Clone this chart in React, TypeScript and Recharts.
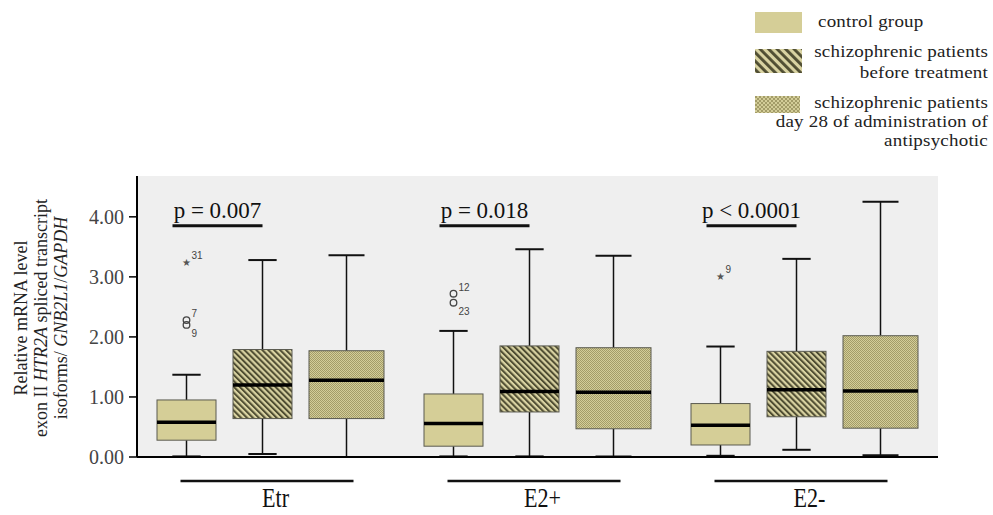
import React from "react";
import { ComposedChart, Bar, XAxis, YAxis, CartesianGrid } from "recharts";

// ─── Data ─────────────────────────────────────────────────────────────────────

const CATEGORIES = ["Etr", "E2+", "E2-"];
const P_VALUES = ["p = 0.007", "p = 0.018", "p < 0.0001"];
const Y_TICKS = [0, 1, 2, 3, 4];

// box stats per category: [min, q1, median, q3, max]
const CONTROL = [
  [0.01, 0.28, 0.58, 0.95, 1.37],
  [0.01, 0.18, 0.56, 1.05, 2.1],
  [0.02, 0.2, 0.53, 0.89, 1.84],
];
const BEFORE = [
  [0.05, 0.64, 1.2, 1.79, 3.28],
  [0.01, 0.75, 1.09, 1.85, 3.46],
  [0.12, 0.67, 1.12, 1.76, 3.3],
];
const DAY28 = [
  [0.0, 0.64, 1.28, 1.77, 3.36],
  [0.01, 0.47, 1.08, 1.82, 3.35],
  [0.03, 0.48, 1.1, 2.02, 4.25],
];

// SPSS outliers (circle) and extremes (star), with case numbers
type Outlier = { value: number; id: string; extreme?: boolean };
const CONTROL_OUTLIERS: Outlier[][] = [
  [{ value: 3.24, id: "31", extreme: true }, { value: 2.28, id: "7" }, { value: 2.2, id: "9" }],
  [{ value: 2.72, id: "12" }, { value: 2.57, id: "23" }],
  [{ value: 3.02, id: "9", extreme: true }],
];

// ─── Style ────────────────────────────────────────────────────────────────────

const SERIF = "'Liberation Serif', 'Times New Roman', serif";
const KHAKI = "#d5ce97";
const KHAKI_LIGHT = "#d9d3a2";
const OLIVE_DARK = "#4f4d32";
const CHECK_DARK = "#a39c68";
const PLOT_BG = "#efefef";

const rows = CATEGORIES.map((name, i) => ({
  name,
  i,
  control: [CONTROL[i][0], CONTROL[i][4]],
  before: [BEFORE[i][0], BEFORE[i][4]],
  day28: [DAY28[i][0], DAY28[i][4]],
}));

function Patterns({ suffix, stripe = 4.2, cell = 1 }: { suffix: string; stripe?: number; cell?: number }) {
  return (
    <defs>
      <pattern
        id={`stripes-${suffix}`}
        patternUnits="userSpaceOnUse"
        width={stripe}
        height={stripe}
        patternTransform="rotate(-45)"
      >
        <rect width={stripe} height={stripe} fill={KHAKI_LIGHT} />
        <rect width={stripe * 0.48} height={stripe} fill={OLIVE_DARK} />
      </pattern>
      <pattern id={`check-${suffix}`} patternUnits="userSpaceOnUse" width={cell * 2} height={cell * 2}>
        <rect width={cell * 2} height={cell * 2} fill="#d3cd98" />
        <rect width={cell} height={cell} fill={CHECK_DARK} />
        <rect x={cell} y={cell} width={cell} height={cell} fill={CHECK_DARK} />
      </pattern>
    </defs>
  );
}

// ─── Box shape ────────────────────────────────────────────────────────────────

function makeBox(key: string, stats: number[][], fillKind: "solid" | "stripes" | "check", outliers?: Outlier[][]) {
  return function BoxShape(props: any) {
    const { x, y, width, height } = props;
    const idx = props.payload?.i ?? props.index ?? 0;
    const [mn, q1, med, q3, mx] = stats[idx];
    // value -> pixel, from the bar's own [min, max] placement on the y scale
    const toY = (v: number) => y + (height * (mx - v)) / (mx - mn);
    const cx = x + width / 2;
    const cap = width * 0.24;
    const suffix = `${key}-${idx}`;
    const fill =
      fillKind === "solid" ? KHAKI : fillKind === "stripes" ? `url(#stripes-${suffix})` : `url(#check-${suffix})`;

    const list = outliers ? outliers[idx] : [];
    const circles = list.filter((o) => !o.extreme).sort((a, b) => b.value - a.value);

    return (
      <g>
        {fillKind !== "solid" && <Patterns suffix={suffix} />}
        {/* whiskers */}
        <line x1={cx} x2={cx} y1={toY(mx)} y2={toY(q3)} stroke="#111" strokeWidth={1.5} />
        <line x1={cx} x2={cx} y1={toY(q1)} y2={toY(mn)} stroke="#111" strokeWidth={1.5} />
        <line x1={cx - cap} x2={cx + cap} y1={toY(mx)} y2={toY(mx)} stroke="#111" strokeWidth={2} />
        <line x1={cx - cap} x2={cx + cap} y1={toY(mn)} y2={toY(mn)} stroke="#111" strokeWidth={2} />
        {/* box */}
        <rect
          x={x}
          y={toY(q3)}
          width={width}
          height={toY(q1) - toY(q3)}
          fill={fill}
          stroke="#5a5a50"
          strokeWidth={1}
        />
        <line x1={x} x2={x + width} y1={toY(med)} y2={toY(med)} stroke="#000" strokeWidth={3.5} />
        {/* outliers */}
        {list.map((o, k) => {
          const py = toY(o.value);
          if (o.extreme) {
            return (
              <g key={k}>
                <text x={cx} y={py + 4} textAnchor="middle" fontSize={10} fill="#555" fontFamily="DejaVu Sans">
                  ★
                </text>
                <text x={cx + 5} y={py - 3} fontSize={10} fill="#444" fontFamily="Liberation Sans, Arial">
                  {o.id}
                </text>
              </g>
            );
          }
          const rank = circles.indexOf(o);
          const below = circles.length > 1 && rank === circles.length - 1;
          return (
            <g key={k}>
              <circle cx={cx} cy={py} r={3.3} fill="none" stroke="#444" strokeWidth={1.3} />
              <text
                x={cx + 5}
                y={below ? py + 12 : py - 3}
                fontSize={10}
                fill="#444"
                fontFamily="Liberation Sans, Arial"
              >
                {o.id}
              </text>
            </g>
          );
        })}
        {/* significance bar: control vs before treatment */}
        {key === "control" && (
          <g>
            <text x={cx + 31} y={toY(3.85) - 8} textAnchor="middle" fontFamily={SERIF} fontSize={23} fill="#111">
              {P_VALUES[idx]}
            </text>
            <line x1={cx - 14} x2={cx + 76} y1={toY(3.85)} y2={toY(3.85)} stroke="#111" strokeWidth={3} />
          </g>
        )}
      </g>
    );
  };
}

const ControlBox = makeBox("control", CONTROL, "solid", CONTROL_OUTLIERS);
const BeforeBox = makeBox("before", BEFORE, "stripes");
const Day28Box = makeBox("day28", DAY28, "check");

function CategoryTick({ x, y, payload }: any) {
  return (
    <g>
      <line x1={x - 90} x2={x + 83} y1={y + 24} y2={y + 24} stroke="#111" strokeWidth={2.5} />
      <text
        transform={`translate(${x + 5},${y + 50}) scale(0.82,1)`}
        textAnchor="middle"
        fontFamily={SERIF}
        fontSize={27}
        fill="#111"
      >
        {payload.value}
      </text>
    </g>
  );
}

// ─── Legend ───────────────────────────────────────────────────────────────────

const legendText: React.CSSProperties = {
  position: "absolute",
  fontFamily: SERIF,
  fontSize: 19,
  lineHeight: "20px",
  height: 20,
  letterSpacing: 0.2,
  color: "#222",
  whiteSpace: "nowrap",
  transform: "scaleY(0.85)",
  transformOrigin: "center",
};
const rightText: React.CSSProperties = { ...legendText, right: 5, textAlign: "right" };

function Legend() {
  return (
    <>
      <svg style={{ position: "absolute", left: 755, top: 12 }} width={48} height={102}>
        <Patterns suffix="legend" stripe={6} cell={2} />
        <rect x={0} y={0} width={47} height={21} fill={KHAKI} />
        <rect x={0} y={37} width={47} height={24} fill="url(#stripes-legend)" />
        <rect x={0} y={84} width={45} height={17} fill="url(#check-legend)" />
      </svg>
      <div style={{ ...legendText, left: 818, top: 12 }}>control group</div>
      <div style={{ ...rightText, top: 42 }}>schizophrenic patients</div>
      <div style={{ ...rightText, top: 63 }}>before treatment</div>
      <div style={{ ...rightText, top: 93 }}>schizophrenic patients</div>
      <div style={{ ...rightText, top: 112 }}>day 28 of administration of</div>
      <div style={{ ...rightText, top: 131 }}>antipsychotic</div>
    </>
  );
}

function YLabel() {
  return (
    <div
      style={{
        position: "absolute",
        left: 41 - 130,
        top: 318 - 30,
        width: 260,
        height: 60,
        transform: "rotate(-90deg)",
        transformOrigin: "center",
        fontFamily: SERIF,
        fontSize: 18,
        lineHeight: "20px",
        textAlign: "center",
        color: "#222",
        whiteSpace: "nowrap",
      }}
    >
      <div>Relative mRNA level</div>
      <div>
        exon II <i>HTR2A</i> spliced transcript
      </div>
      <div>
        isoforms/ <i>GNB2L1</i>/<i>GAPDH</i>
      </div>
    </div>
  );
}

// ─── Chart ────────────────────────────────────────────────────────────────────

export default function App() {
  return (
    <div style={{ position: "absolute", left: 0, top: 0, width: 993, height: 515, background: "#fff" }}>
      <ComposedChart
        width={993}
        height={515}
        data={rows}
        barGap={17}
        margin={{ top: 176, right: 55, bottom: 0, left: 0 }}
      >
        <CartesianGrid horizontal={false} vertical={false} fill={PLOT_BG} stroke="none" />
        <XAxis
          dataKey="name"
          height={58}
          interval={0}
          tickLine={false}
          tickSize={0}
          tickMargin={0}
          axisLine={{ stroke: "#000", strokeWidth: 2 }}
          tick={<CategoryTick />}
        />
        <YAxis
          width={137}
          domain={[0, 4.68]}
          ticks={Y_TICKS}
          allowDataOverflow
          tickFormatter={(v: number) => v.toFixed(2)}
          tickSize={8}
          tickMargin={5}
          tick={{ fontFamily: SERIF, fontSize: 20, fill: "#444" }}
          axisLine={{ stroke: "#000", strokeWidth: 2 }}
          tickLine={{ stroke: "#000", strokeWidth: 1.5 }}
        />
        <Bar dataKey="control" barSize={59} shape={ControlBox} isAnimationActive={false} />
        <Bar dataKey="before" barSize={59} shape={BeforeBox} isAnimationActive={false} />
        <Bar dataKey="day28" barSize={75} shape={Day28Box} isAnimationActive={false} />
      </ComposedChart>
      <Legend />
      <YLabel />
    </div>
  );
}
